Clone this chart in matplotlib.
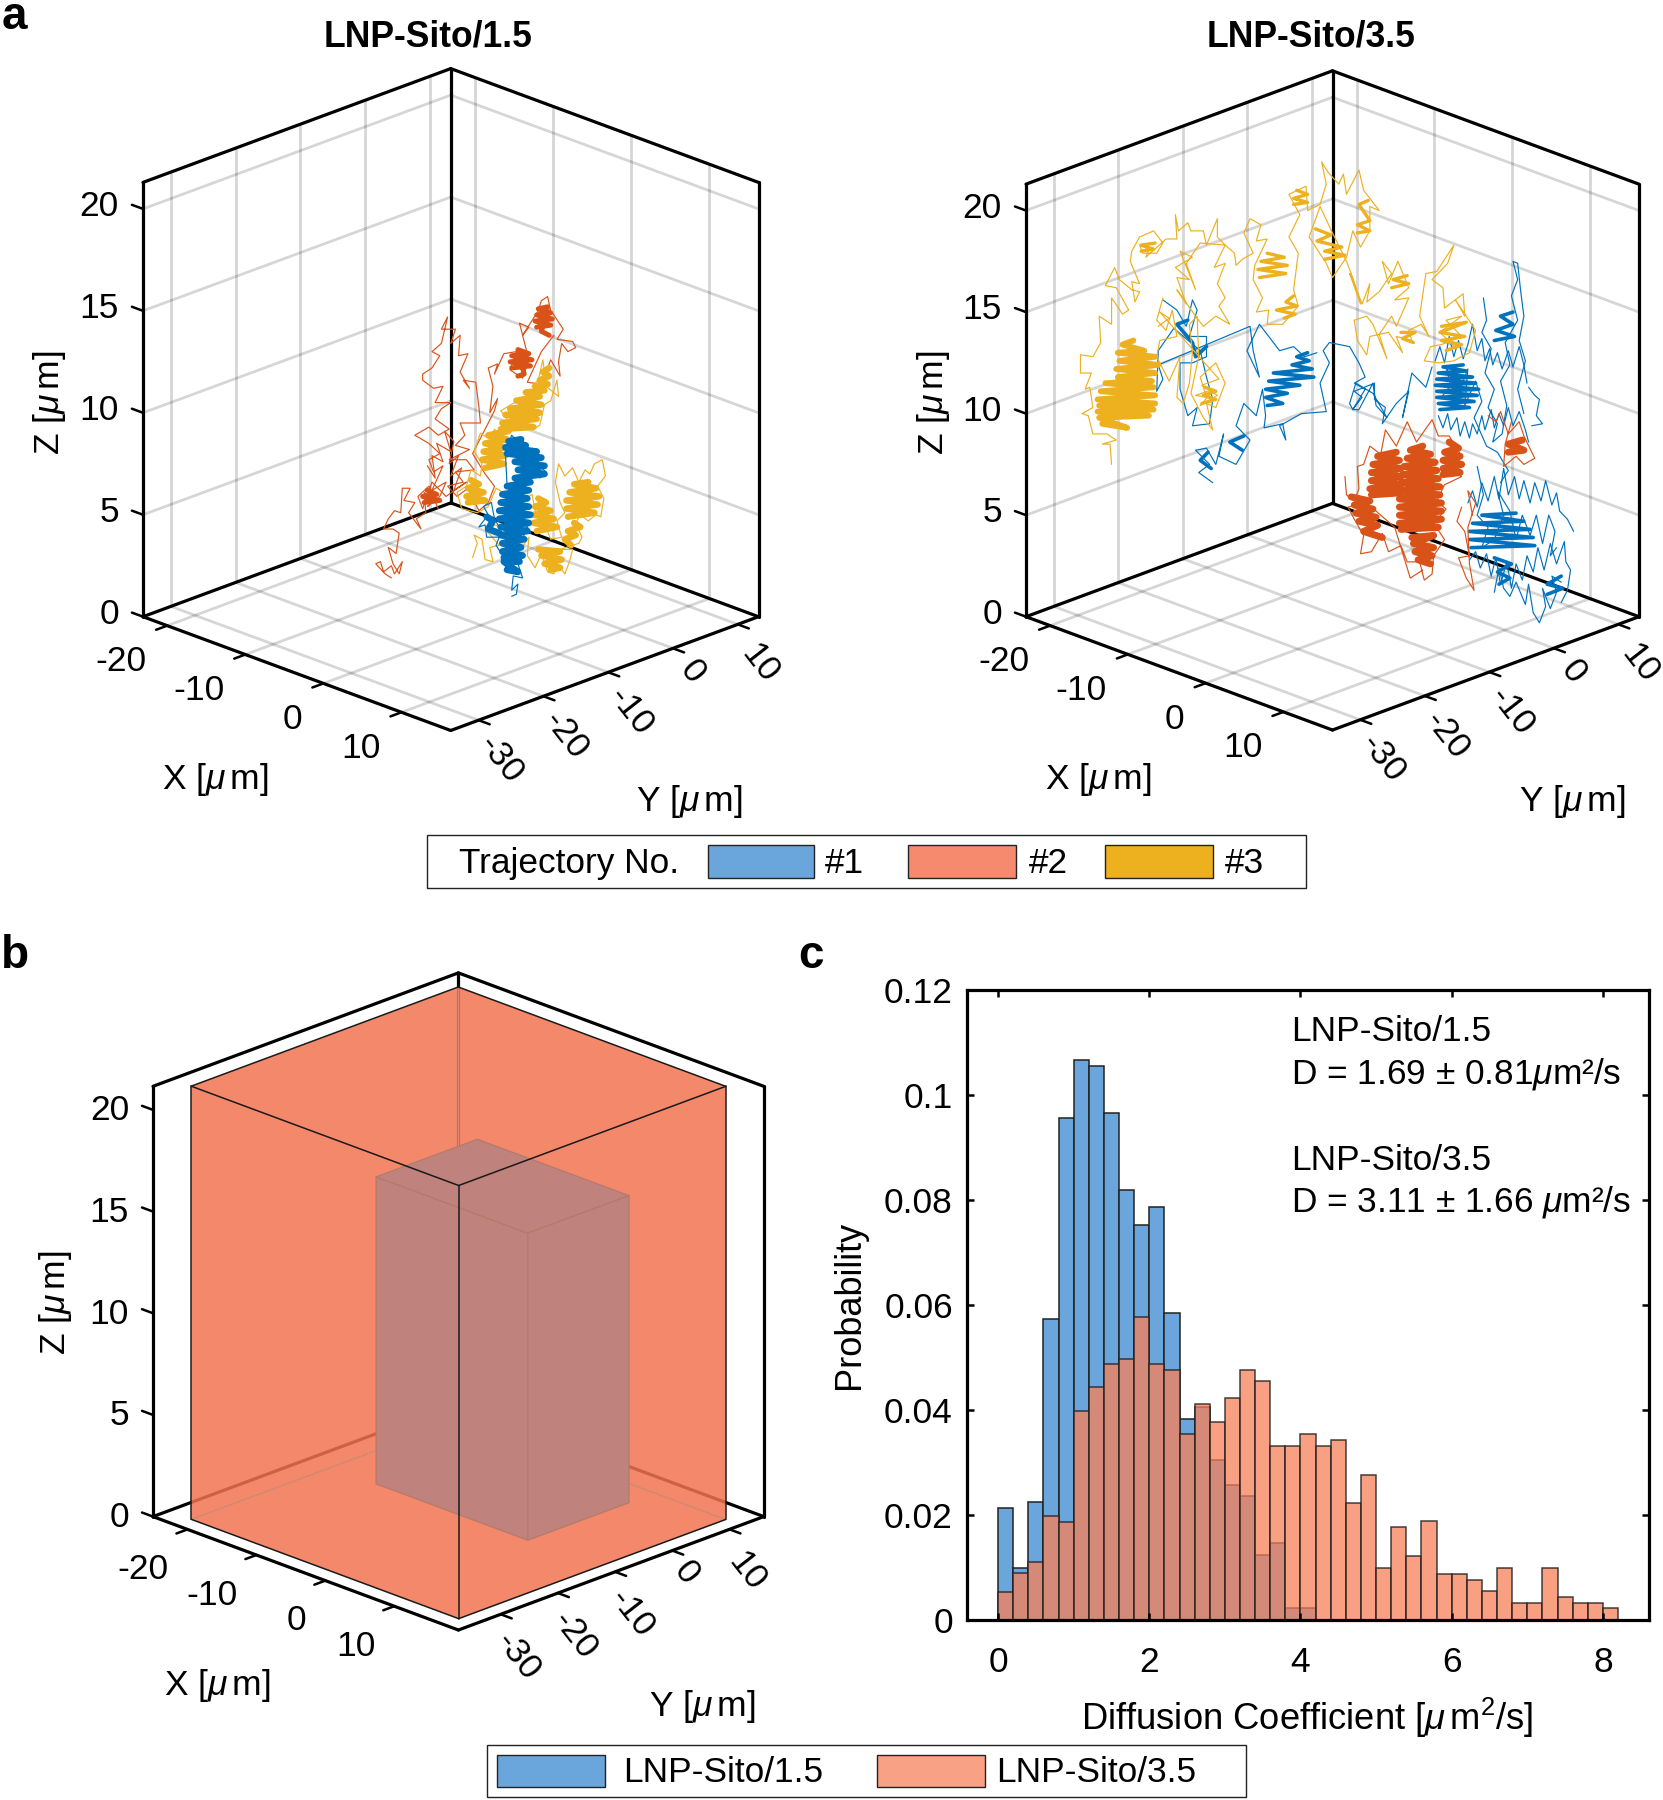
"""Three panels: particle trajectories in 3D, the imaged volumes, diffusion histogram."""
import matplotlib

matplotlib.use("Agg")
import matplotlib.pyplot as plt
import numpy as np
from matplotlib.colors import to_rgba
from matplotlib.patches import Rectangle
from mpl_toolkits.mplot3d import proj3d
from mpl_toolkits.mplot3d.art3d import Poly3DCollection

plt.rcParams["font.family"] = ["Liberation Sans", "DejaVu Sans"]
plt.rcParams["mathtext.fontset"] = "custom"
plt.rcParams["mathtext.rm"] = "Liberation Sans"
plt.rcParams["mathtext.it"] = "Liberation Sans:italic"

W, H = 1663, 1800
BLUE, RED, YELLOW = "#0072BD", "#D95319", "#EDB120"
SWATCH_BLUE, SWATCH_RED, SWATCH_ORANGE = "#6aa6dc", "#f58a6e", "#f9a184"
FS = 25.5

X_TICKS = [-20, -10, 0, 10]
Y_TICKS = [-30, -20, -10, 0, 10]
Z_TICKS = [0, 5, 10, 15, 20]

# Only the projection of a path can be read, so each track is (X, Z) in um;
# depth is placed on the box diagonal when drawing.
L_RED_THIN = [
    (-7.2, 1.9), (-7.6, 2.1), (-8.2, 2.6), (-7.9, 2.7), (-7.7, 2.2), (-7.2, 2.5), (-7.0, 2.1), (-6.5, 2.7),
    (-6.7, 2.1), (-7.1, 2.6), (-7.4, 3.4), (-6.9, 3.1), (-6.7, 4.1), (-7.1, 4.3), (-7.7, 4.3), (-7.4, 4.8),
    (-7.0, 5.2), (-6.6, 5.1), (-6.5, 6.3), (-6.0, 6.3), (-6.4, 5.7), (-5.7, 5.6), (-6.1, 5.1), (-5.3, 4.3),
    (-5.6, 4.8), (-5.0, 5.1), (-5.1, 6.1), (-4.5, 5.7), (-4.9, 5.4), (-4.1, 5.9), (-3.7, 6.6), (-4.6, 6.2),
    (-3.9, 7.4), (-4.5, 7.1), (-4.8, 7.7), (-4.1, 8.0), (-4.8, 8.5), (-5.7, 8.9), (-4.8, 9.3), (-4.2, 8.9),
    (-3.5, 9.2), (-4.4, 9.7), (-4.0, 10.2), (-3.4, 10.5), (-4.4, 10.5), (-3.9, 11.3), (-4.5, 11.2), (-5.2, 11.6),
    (-5.2, 11.9), (-4.6, 12.2), (-4.1, 12.8), (-4.6, 13.0), (-4.0, 13.4), (-3.6, 14.7), (-4.0, 14.1), (-3.1, 14.1),
    (-3.4, 13.4), (-2.8, 13.8), (-2.9, 12.8), (-2.3, 12.9), (-2.8, 12.0), (-2.2, 11.2), (-2.6, 11.6), (-1.8, 11.5),
    (-1.6, 10.3), (-1.5, 9.5), (-2.8, 9.5), (-2.5, 8.9), (-3.1, 8.4), (-2.2, 8.2), (-3.5, 7.7), (-2.4, 7.7),
    (-1.9, 7.2), (-3.1, 7.1), (-2.6, 6.6), (-3.6, 6.4), (-3.0, 5.9), (-2.3, 6.3), (-1.6, 5.2), (-1.0, 5.6),
    (-0.6, 6.4), (-1.2, 7.0), (-2.0, 8.0), (-0.6, 10.1), (-0.4, 10.7), (-0.9, 10.0), (-0.7, 11.3), (-1.0, 12.2),
    (-0.4, 12.4), (-0.6, 11.9), (0.0, 12.9), (0.8, 13.0), (0.4, 12.1), (1.2, 11.7), (1.6, 12.6), (1.0, 14.4),
    (1.6, 14.2), (1.2, 13.8), (2.2, 15.0), (2.4, 15.5), (2.8, 15.7), (3.0, 15.0), (3.2, 14.8), (3.8, 14.1),
    (3.4, 13.6), (4.4, 13.5), (4.6, 13.2), (4.1, 13.0), (3.7, 13.4), (3.5, 12.5), (3.6, 11.8), (3.0, 12.6),
    (2.4, 11.4), (1.5, 11.5), (2.4, 13.0), (3.2, 13.8),
]
L_RED_SCRIB = [
    (-4.9, 7.4), (-4.4, 6.8), (-4.6, 7.9), (-3.9, 7.6), (-4.3, 8.5), (-3.4, 8.1), (-3.8, 9.1), (-3.2, 8.6),
    (-3.5, 7.5), (-2.9, 7.9), (-3.4, 6.9), (-2.7, 7.3), (-3.2, 6.2), (-2.4, 6.6), (-3.7, 5.9), (-4.6, 6.6),
    (-5.2, 5.3), (-5.5, 5.9), (-4.8, 6.4), (-4.2, 5.3),
]
L_RED_BLOBS = [
    [(2.1, 14.2), (3.0, 14.3), (2.0, 14.5), (3.1, 14.6), (2.1, 14.8), (3.0, 14.9), (2.2, 15.1), (2.8, 15.2), (2.4, 14.0), (2.9, 13.8)],
    [(0.5, 12.2), (1.7, 12.3), (0.4, 12.5), (1.8, 12.6), (0.5, 12.8), (1.6, 12.9), (0.9, 13.1), (1.3, 11.9), (0.9, 11.8)],
    [(-5.1, 5.6), (-4.1, 5.7), (-5.2, 5.9), (-4.3, 6.0), (-4.9, 6.2)],
]
L_YELLOW_THIN = [
    (-2.0, 2.9), (-1.7, 3.6), (-1.9, 4.0), (-1.4, 3.8), (-1.2, 2.8), (-0.7, 2.7), (-0.9, 3.4), (-0.3, 3.5),
    (-1.2, 4.3), (-0.5, 4.5), (0.1, 4.0), (1.0, 3.2), (1.6, 3.9), (1.5, 3.0), (2.0, 2.4), (2.4, 3.1),
    (2.8, 2.2), (3.2, 2.1), (3.4, 2.6), (3.9, 2.1), (4.2, 2.7), (4.4, 3.3), (3.6, 3.3), (4.8, 3.6),
    (5.0, 3.9), (4.6, 4.6), (4.9, 5.0), (5.4, 4.7), (5.9, 5.0), (6.2, 4.9), (6.4, 5.8), (6.0, 6.4),
    (6.5, 6.9), (6.3, 7.7), (5.8, 7.5), (5.5, 7.0), (5.2, 7.2), (4.8, 6.6), (4.4, 7.3), (3.9, 6.9),
    (3.5, 7.5), (3.3, 6.6), (3.6, 5.6), (3.9, 5.1), (3.4, 4.7), (3.7, 3.9), (3.0, 3.8), (2.4, 4.9),
    (2.0, 5.2), (1.8, 6.0), (1.0, 5.6), (0.4, 5.9), (-0.5, 6.3), (-1.0, 5.4), (-1.7, 5.1), (-2.7, 5.3),
    (-3.0, 6.1), (-2.4, 6.4), (-2.1, 7.2), (-1.5, 6.9), (-1.4, 7.5), (-1.9, 8.1), (-1.5, 9.0), (-0.9, 8.7),
    (-0.6, 9.2), (-0.1, 8.8), (0.2, 9.7), (-0.2, 10.1), (0.9, 10.6), (1.2, 9.7), (1.9, 9.2), (2.3, 9.4),
    (2.6, 10.4), (3.0, 10.6), (3.4, 11.6), (3.5, 10.8), (2.7, 11.3), (2.5, 12.6), (2.2, 11.6), (1.8, 11.3),
]
L_YELLOW_BLOBS = [
    [(-1.2, 7.3), (0.0, 7.5), (-1.4, 7.7), (0.1, 7.9), (-1.3, 8.1), (0.1, 8.3), (-1.2, 8.5), (0.2, 8.7), (-1.0, 8.9), (0.3, 9.1)],
    [(-0.2, 9.2), (1.9, 9.3), (-0.1, 9.5), (2.1, 9.7), (0.1, 9.9), (2.3, 10.0), (0.4, 10.2), (2.4, 10.4), (0.8, 10.6), (2.3, 10.8), (1.4, 11.0), (2.6, 11.1)],
    [(2.0, 11.3), (2.8, 11.4), (2.3, 11.6), (2.9, 11.8), (2.5, 12.0), (2.9, 12.2)],
    [(-2.3, 5.6), (-1.2, 5.7), (-2.4, 5.9), (-1.3, 6.1), (-2.3, 6.3), (-1.6, 6.5), (-2.1, 6.7)],
    [(2.1, 4.2), (3.4, 4.4), (1.9, 4.6), (3.2, 4.8), (1.9, 5.0), (3.0, 5.2), (2.0, 5.4), (2.7, 5.6), (2.2, 5.8)],
    [(2.2, 3.3), (3.6, 3.2), (2.4, 3.0), (3.7, 2.8), (2.6, 2.6), (3.6, 2.4), (3.0, 2.3)],
    [(4.1, 4.9), (5.8, 5.1), (4.0, 5.3), (6.0, 5.5), (4.0, 5.7), (6.1, 5.9), (4.2, 6.1), (5.9, 6.3), (4.5, 6.5), (5.4, 6.6)],
    [(4.5, 4.6), (4.9, 4.4), (4.1, 4.2), (4.6, 4.0), (3.9, 3.8), (4.3, 3.5)],
]
L_BLUE_THIN = [
    (0.5, 1.0), (0.8, 1.1), (0.9, 1.6), (0.5, 1.3), (0.6, 2.0), (1.2, 1.9), (0.9, 2.6), (1.2, 2.9),
    (0.0, 2.9), (-0.5, 3.5), (-0.3, 3.9), (-1.1, 3.9), (-1.2, 4.5), (-1.6, 4.4), (-1.0, 5.0), (-1.3, 5.4),
    (-0.8, 5.6), (-0.6, 4.8), (-0.3, 4.4), (1.2, 3.7), (1.4, 4.4), (1.7, 4.1), (0.2, 6.5), (0.1, 8.0),
    (0.5, 8.9), (1.2, 8.3), (2.0, 7.9), (2.4, 7.3), (2.7, 7.1), (2.3, 6.8),
]
L_BLUE_BLOBS = [
    [(0.2, 2.3), (0.9, 2.2), (0.0, 2.7), (1.0, 2.7), (0.0, 2.9), (1.2, 3.0), (-0.1, 3.2), (1.1, 3.4), (-0.1, 3.6), (1.3, 3.8),
     (-0.2, 4.0), (1.5, 4.2), (-0.2, 4.4), (1.6, 4.6), (-0.3, 4.8), (1.7, 5.0), (-0.3, 5.2), (1.6, 5.4), (-0.2, 5.6), (1.5, 5.8),
     (-0.1, 6.0), (1.6, 6.2), (0.2, 6.4), (1.7, 6.6), (0.7, 6.8), (2.6, 7.0), (0.9, 7.2), (2.6, 7.4), (0.7, 7.6), (2.4, 7.8),
     (0.2, 8.0), (2.1, 8.1), (0.1, 8.3), (1.4, 8.4), (0.3, 8.6), (1.1, 8.7)],
    [(-1.1, 4.9), (-0.7, 4.7), (-1.0, 4.3), (-0.3, 4.1)],
]

R_YELLOW_THIN = [
    (-17.6, 7.5), (-17.7, 8.5), (-18.2, 8.5), (-17.3, 8.7), (-17.9, 9.0), (-18.8, 9.0), (-19.1, 9.9), (-19.5, 10.0),
    (-18.8, 10.3), (-19.0, 11.3), (-19.3, 11.2), (-18.9, 12.0), (-19.6, 12.0), (-19.6, 12.9), (-18.8, 12.8), (-18.3, 13.5),
    (-18.4, 14.8), (-17.6, 14.4), (-17.6, 15.7), (-16.9, 14.9), (-16.5, 15.1), (-17.3, 16.2), (-18.0, 16.3), (-17.4, 17.2),
    (-17.1, 16.6), (-16.3, 16.1), (-15.8, 16.0), (-16.1, 15.5), (-16.3, 16.5), (-15.8, 16.4), (-16.4, 17.5), (-16.3, 18.0),
    (-15.8, 18.7), (-14.9, 19.0), (-14.3, 18.4), (-14.7, 17.9), (-15.6, 17.9), (-15.8, 18.3), (-15.2, 18.1), (-15.4, 17.7),
    (-14.1, 18.6), (-13.4, 18.6), (-13.5, 19.8), (-13.3, 19.0), (-12.7, 19.4), (-12.5, 19.0), (-11.7, 19.0), (-11.5, 18.3),
    (-10.8, 19.6), (-10.8, 18.7), (-10.3, 18.3), (-11.0, 17.2), (-10.3, 17.4), (-10.8, 16.4), (-10.3, 15.7), (-10.7, 15.3),
    (-10.0, 14.4), (-10.9, 14.8), (-11.7, 14.3), (-12.2, 14.8), (-13.4, 16.1), (-12.8, 15.4), (-13.4, 16.7), (-12.6, 16.6),
    (-13.5, 17.2), (-12.4, 17.7), (-13.2, 18.0), (-12.2, 16.1), (-12.8, 17.4), (-11.9, 18.4), (-10.3, 18.3), (-9.7, 17.9),
    (-9.6, 17.3), (-9.2, 17.6), (-8.5, 17.9), (-9.1, 18.9), (-8.7, 19.6), (-8.0, 19.3), (-8.3, 18.5), (-7.6, 18.6),
    (-8.4, 17.3), (-8.5, 16.6), (-7.9, 15.7), (-8.3, 15.0), (-7.5, 15.1), (-7.6, 14.4), (-6.6, 14.4), (-5.6, 15.3),
    (-5.9, 16.1), (-5.6, 17.9), (-6.2, 18.7), (-5.5, 19.8), (-6.2, 20.8), (-5.1, 21.2), (-5.0, 20.0), (-4.2, 20.3),
    (-3.8, 21.3), (-4.1, 22.4), (-3.7, 21.9), (-3.0, 21.3), (-2.7, 21.8), (-2.5, 20.8), (-1.7, 22.0), (-1.4, 21.0),
    (-0.4, 20.0), (-1.0, 20.2), (-1.0, 19.0), (-1.6, 18.2), (-2.1, 19.0), (-2.5, 17.7), (-3.4, 16.7), (-3.8, 17.4),
    (-4.9, 18.7), (-4.2, 20.2), (-3.4, 18.9), (-2.5, 17.5), (-2.1, 16.7), (-1.6, 15.4), (-2.3, 16.9), (-2.1, 16.6),
    (-1.5, 15.4), (-1.0, 16.4), (-1.2, 15.5), (-0.4, 16.0), (0.4, 16.9), (-0.2, 17.5), (0.2, 16.4), (0.8, 17.5),
    (1.5, 16.2), (0.6, 15.6), (1.5, 15.7), (0.7, 14.3), (0.4, 14.8), (-0.4, 13.9), (0.1, 12.7), (-0.8, 14.4),
    (-1.2, 14.8), (-2.0, 14.6), (-1.8, 13.6), (-1.2, 12.9), (-1.0, 13.8), (0.2, 14.0), (1.1, 13.0), (0.7, 13.8),
    (1.7, 13.6), (1.5, 14.1), (2.3, 14.4), (2.8, 13.8), (2.2, 14.8), (2.6, 16.9), (3.3, 17.0), (4.4, 18.3),
    (4.0, 17.4), (3.0, 16.6), (3.7, 16.2), (3.8, 15.2), (5.0, 15.9), (5.1, 14.8), (4.5, 15.6), (5.8, 14.1),
    (5.4, 13.0), (4.4, 12.6), (3.4, 12.5), (2.5, 12.6), (2.9, 13.3), (3.6, 13.4), (4.9, 13.8), (3.9, 14.6),
    (4.9, 14.8), (3.5, 14.0), (4.6, 13.2),
]
R_YELLOW_MID = [
    (-14.3, 15.7), (-14.7, 14.6), (-14.1, 14.1), (-13.7, 15.1), (-13.4, 13.8), (-14.5, 13.6), (-14.7, 12.8), (-13.9, 11.6),
    (-13.2, 12.8), (-13.4, 10.8), (-13.0, 10.5), (-12.6, 11.5), (-12.4, 13.0), (-12.6, 14.4), (-12.1, 14.8), (-12.0, 12.8),
    (-12.5, 11.0), (-11.7, 9.8), (-11.1, 9.2), (-11.5, 10.5), (-10.9, 10.3), (-10.3, 11.5), (-10.9, 12.5), (-11.9, 11.8),
    (-11.5, 10.8), (-12.2, 10.9), (-11.0, 11.2), (-11.9, 10.4), (-10.8, 10.9), (-11.8, 11.4), (-10.7, 11.7),
    (-14.5, 15.0), (-13.9, 14.7), (-14.6, 14.3),
]
R_YELLOW_BLOBS = [
    [(-18.2, 9.5), (-16.6, 9.3), (-18.4, 9.8), (-15.2, 9.9), (-18.5, 10.1), (-14.9, 10.2), (-18.4, 10.4), (-14.8, 10.5), (-18.5, 10.7), (-14.8, 10.9),
     (-18.3, 11.1), (-14.9, 11.3), (-18.0, 11.5), (-15.0, 11.6), (-17.2, 11.8), (-14.8, 12.0), (-17.3, 12.2), (-14.6, 12.4), (-17.1, 12.6), (-14.8, 12.8),
     (-17.2, 13.0), (-15.5, 13.1), (-16.9, 13.4), (-16.2, 13.6)],
    [(-15.7, 18.0), (-14.9, 18.1), (-15.7, 18.3), (-14.8, 18.4)],
    [(-8.1, 16.7), (-6.4, 16.9), (-8.2, 17.1), (-6.3, 17.3), (-8.0, 17.5), (-6.5, 17.7), (-7.6, 17.9)],
    [(-6.5, 14.7), (-5.8, 14.9), (-7.0, 15.1), (-5.7, 15.3), (-6.4, 15.5), (-5.9, 15.8)],
    [(-5.9, 20.3), (-5.0, 20.4), (-5.9, 20.6), (-5.0, 20.8), (-5.7, 21.0)],
    [(-3.9, 17.6), (-2.6, 17.8), (-3.9, 18.0), (-2.8, 18.2), (-4.4, 18.5), (-3.5, 18.8), (-4.5, 19.1)],
    [(-1.8, 18.9), (-1.0, 19.0), (-1.8, 19.3), (-1.0, 19.5), (-1.7, 20.3), (-1.1, 20.5)],
    [(-11.8, 10.5), (-10.9, 10.7), (-11.7, 10.9), (-10.9, 11.1), (-11.6, 11.3)],
    [(0.4, 16.2), (1.5, 16.4), (0.5, 16.6), (1.4, 16.8)],
    [(1.0, 14.0), (1.9, 14.0), (1.1, 13.7), (1.8, 13.5)],
    [(3.6, 14.3), (5.2, 14.5), (3.5, 14.0), (5.1, 13.8), (3.6, 13.6), (4.9, 13.4), (3.9, 13.1)],
]
R_BLUE_THIN = [
    (-11.1, 6.6), (-12.0, 7.1), (-11.3, 7.5), (-12.2, 8.2), (-11.5, 8.3), (-10.9, 7.5), (-10.4, 9.0), (-10.7, 7.9),
    (-9.6, 7.5), (-8.7, 8.7), (-9.6, 9.4), (-9.1, 10.5), (-8.3, 9.9), (-7.9, 11.2), (-7.7, 9.9), (-7.8, 9.3),
    (-6.6, 9.5), (-6.4, 8.7), (-6.8, 9.4), (-5.4, 10.0), (-3.8, 10.1), (-4.2, 11.5), (-3.6, 12.5), (-4.0, 13.1),
    (-3.6, 13.5), (-2.3, 13.3), (-1.7, 12.5), (-1.3, 11.8), (-2.0, 11.5), (-1.3, 11.2), (-2.1, 10.2), (-1.7, 10.2),
    (-0.8, 11.5), (-0.6, 10.4), (0.1, 9.8), (-0.8, 11.0), (-1.9, 11.5), (-2.3, 10.5), (-2.1, 10.2), (-1.5, 10.8),
    (-2.0, 11.1), (-0.7, 11.5), (-0.7, 10.7), (0.0, 10.3), (-0.2, 9.5), (0.7, 10.5), (1.5, 11.1), (1.1, 9.8),
    (1.7, 12.0), (2.6, 11.3), (3.0, 12.3),
]
R_BLUE_LEFT = [
    (-14.3, 15.6), (-13.4, 15.1), (-12.8, 14.3), (-12.4, 15.6), (-12.1, 15.1), (-12.6, 13.8), (-11.5, 13.8), (-11.5, 12.8),
    (-12.4, 12.5), (-13.2, 12.5), (-13.2, 11.2), (-12.7, 9.9), (-12.1, 10.3), (-12.4, 9.4), (-11.3, 9.5), (-11.1, 10.7),
    (-11.5, 11.8), (-11.9, 13.1), (-13.6, 14.2), (-14.6, 13.1), (-14.7, 11.1), (-14.3, 11.7), (-14.6, 12.4),
    (-8.7, 14.3), (-8.5, 13.1), (-8.1, 11.8), (-8.9, 13.1), (-8.1, 14.4), (-7.5, 13.8), (-6.8, 13.1), (-5.9, 13.3),
    (-5.2, 12.8), (-4.4, 13.0),
]
R_BLUE_STRANDS = [
    [(3.4, 9.9), (3.7, 9.3), (4.0, 10.0), (4.2, 9.2), (4.6, 9.8), (4.8, 8.9), (5.1, 9.6), (5.4, 8.8), (5.6, 9.5), (5.9, 9.0), (6.2, 9.9),
     (6.4, 9.2), (6.8, 10.2), (7.0, 9.3), (7.3, 10.0), (7.6, 9.4), (7.9, 10.3), (8.2, 9.4), (8.6, 10.1), (9.0, 9.2), (9.2, 8.6)],
    [(3.2, 12.6), (3.5, 13.3), (3.8, 12.5), (4.1, 13.8), (4.4, 12.8), (4.7, 13.6), (5.0, 12.7), (5.3, 13.4), (5.6, 14.4), (5.9, 13.1), (6.2, 13.7),
     (6.4, 12.6), (6.7, 13.2), (6.9, 12.4), (7.2, 13.0), (7.5, 12.2), (7.9, 13.1), (8.2, 12.3), (8.6, 13.3), (8.9, 12.4), (9.1, 11.5)],
    [(6.3, 15.7), (6.5, 14.6), (6.2, 14.0), (6.8, 13.2), (6.4, 12.0), (7.0, 11.2), (6.6, 10.3), (7.2, 9.5), (6.9, 8.6), (7.5, 9.0), (7.8, 10.4),
     (7.4, 11.6), (8.0, 12.4), (7.7, 13.5), (8.5, 14.6), (8.1, 15.8), (8.5, 16.6), (8.2, 17.5), (8.5, 17.4), (8.7, 16.0), (8.9, 14.8),
     (8.6, 13.6), (9.0, 12.6), (8.5, 11.2), (8.9, 10.0)],
    [(9.2, 11.3), (9.6, 10.9), (9.9, 10.7), (9.7, 9.9), (10.1, 9.5), (9.4, 9.4)],
    [(3.6, 10.8), (4.2, 11.4), (3.9, 12.3), (4.7, 11.0), (5.3, 12.2), (5.1, 10.4), (5.8, 11.6), (6.2, 10.6), (5.7, 9.8), (6.5, 8.4), (7.2, 8.1),
     (7.9, 7.2), (7.4, 6.6)],
    [(5.3, 5.6), (5.6, 6.2), (5.9, 5.4), (6.2, 6.6), (6.6, 5.7), (7.0, 6.9), (7.3, 5.8), (7.6, 7.3), (7.9, 6.0), (8.3, 6.9), (8.6, 5.8),
     (8.9, 6.7), (9.3, 5.6), (9.6, 6.6), (10.0, 5.7), (10.3, 6.7), (10.7, 5.5), (11.0, 6.1), (11.2, 5.2), (11.7, 4.8), (12.1, 4.2)],
    [(5.4, 2.8), (5.8, 3.2), (6.1, 2.4), (6.5, 3.1), (6.8, 2.0), (7.1, 2.9), (7.4, 1.6), (7.8, 2.7), (8.1, 1.4), (8.4, 2.6), (8.8, 1.8),
     (9.1, 3.0), (9.5, 2.2), (9.8, 3.4), (10.2, 2.3), (10.6, 3.6), (11.0, 2.6), (11.5, 3.7), (11.6, 2.7), (11.9, 2.3), (11.7, 1.3), (11.3, 0.7)],
    [(7.0, 1.2), (7.3, 2.4), (7.6, 1.4), (8.0, 1.0), (8.4, 1.7), (9.0, 0.6), (9.2, 1.6), (9.5, 0.2), (9.9, -0.3), (10.3, 0.5), (10.1, 1.4),
     (10.6, 0.4), (11.0, 1.2), (10.7, 2.0), (11.3, 1.7)],
    [(5.9, 7.4), (6.3, 6.0), (5.9, 5.0), (6.6, 4.4), (6.2, 3.4), (7.0, 3.8), (7.6, 5.0), (7.2, 6.2), (8.0, 5.2), (8.4, 3.8), (8.8, 5.0),
     (9.3, 4.0), (9.7, 5.0), (10.1, 3.6), (10.5, 5.0), (10.9, 4.2), (10.6, 3.0), (11.0, 3.4)],
]
R_BLUE_BLOBS = [
    [(-7.6, 10.4), (-6.6, 10.5), (-7.7, 10.8), (-6.3, 11.0), (-7.7, 11.2), (-5.5, 11.4), (-7.5, 11.6), (-4.6, 11.8),
     (-7.2, 12.0), (-4.7, 12.2), (-6.0, 12.4), (-4.9, 12.6), (-5.7, 12.8), (-5.0, 13.0)],
    [(-11.4, 8.1), (-11.9, 7.7), (-11.2, 7.3)],
    [(-9.2, 8.2), (-10.0, 8.6), (-9.1, 8.9)],
    [(-12.7, 14.6), (-13.4, 14.4), (-12.4, 13.5), (-12.2, 12.8), (-11.5, 13.3)],
    [(3.5, 10.2), (5.4, 10.3), (3.4, 10.5), (5.7, 10.6), (3.3, 10.8), (5.9, 10.9), (3.3, 11.1), (6.0, 11.2), (3.2, 11.4), (5.8, 11.5),
     (3.3, 11.7), (5.6, 11.8), (3.4, 12.0), (5.2, 12.1), (3.7, 12.3), (5.0, 12.4)],
    [(7.0, 13.6), (8.3, 13.8), (7.1, 14.1), (8.2, 14.4), (7.4, 14.8), (8.2, 15.0)],
    [(5.5, 3.4), (9.6, 3.5), (5.4, 3.8), (9.5, 3.9), (5.4, 4.2), (9.3, 4.3), (5.6, 4.6), (8.9, 4.7), (6.2, 5.0), (8.4, 5.1)],
    [(7.0, 2.9), (8.1, 2.6), (7.2, 2.2), (8.0, 1.9), (7.3, 1.6)],
    [(10.4, 1.1), (11.4, 1.4), (10.4, 1.6), (11.3, 2.0)],
]
R_RED_THIN = [
    (-2.6, 6.9), (-2.5, 6.0), (-2.0, 5.7), (-1.7, 6.3), (-1.8, 7.4), (-1.4, 7.5), (-1.0, 8.4), (-0.3, 8.0),
    (0.0, 9.2), (0.7, 8.4), (1.4, 9.6), (2.0, 8.6), (3.0, 9.7), (3.4, 8.9), (4.1, 8.9), (4.9, 7.9),
    (4.3, 7.2), (4.9, 6.9), (3.8, 6.5), (3.3, 5.7), (3.9, 5.3), (3.1, 4.6), (3.8, 3.8), (3.1, 3.0),
    (3.0, 2.1), (2.5, 1.8), (2.2, 2.7), (1.4, 2.7), (1.0, 3.5), (0.2, 3.2), (-0.2, 4.1), (-0.9, 3.2),
    (-1.6, 3.1), (-1.4, 4.0), (-2.0, 4.8), (-2.4, 5.4), (-1.2, 5.6), (0.6, 4.4), (1.6, 1.9), (2.4, 2.3),
]
R_RED_STRANDS = [
    (4.9, 5.4), (4.6, 4.7), (5.1, 4.2), (5.4, 3.0), (4.7, 2.9), (5.2, 1.9), (5.7, 1.3), (5.4, 2.6),
    (5.3, 4.4), (5.8, 5.6), (5.3, 6.2), (5.6, 5.0),
]
R_RED_UPPER = [
    (6.6, 9.9), (7.1, 9.6), (7.4, 10.1), (7.9, 9.0), (8.6, 9.6), (8.9, 8.9), (9.6, 7.8), (8.9, 7.5),
    (8.4, 7.9), (7.6, 7.4), (7.7, 8.5), (8.1, 9.6),
]
R_RED_BLOBS = [
    [(1.0, 4.3), (3.4, 4.4), (0.9, 4.6), (3.6, 4.8), (0.9, 5.0), (3.6, 5.2), (0.9, 5.4), (3.6, 5.6), (0.9, 5.8), (3.5, 6.0),
     (0.9, 6.2), (3.5, 6.4), (1.0, 6.6), (3.4, 6.8), (1.1, 7.0), (3.3, 7.2), (1.2, 7.4), (3.2, 7.6), (1.4, 7.8), (2.9, 8.0), (1.6, 8.2), (2.4, 8.4)],
    [(-0.9, 6.0), (1.0, 6.1), (-1.0, 6.3), (1.0, 6.5), (-0.9, 6.7), (1.0, 6.9), (-0.9, 7.1), (1.0, 7.3), (-0.8, 7.5), (0.9, 7.7), (-0.5, 7.9), (0.7, 8.1)],
    [(-2.2, 5.9), (-1.0, 5.7), (-2.0, 5.5), (-0.8, 5.3), (-1.9, 5.1), (-0.6, 4.9), (-1.7, 4.7), (-0.5, 4.5), (-1.4, 4.2), (-0.2, 3.9)],
    [(3.7, 7.0), (4.8, 7.1), (3.7, 7.3), (4.9, 7.5), (3.7, 7.7), (4.8, 7.9), (3.8, 8.1), (4.7, 8.3), (4.1, 8.6)],
    [(1.7, 3.9), (3.1, 4.0), (1.8, 3.6), (3.1, 3.4), (1.9, 3.2), (3.0, 3.0), (2.1, 2.8), (2.9, 2.6)],
    [(7.9, 8.1), (8.9, 8.2), (7.9, 8.5), (8.8, 8.7)],
]

HIST_BLUE = [0.0213, 0.0100, 0.0225, 0.0573, 0.0956, 0.1067, 0.1056, 0.0966, 0.0820, 0.0753, 0.0787,
             0.0584, 0.0382, 0.0406, 0.0305, 0.0258, 0.0237, 0.0124, 0.0146, 0.0022, 0.0022]
HIST_ORANGE = [0.0054, 0.0089, 0.0111, 0.0199, 0.0187, 0.0399, 0.0443, 0.0488, 0.0498, 0.0577, 0.0488,
               0.0476, 0.0354, 0.0411, 0.0377, 0.0422, 0.0477, 0.0455, 0.0332, 0.0332, 0.0354, 0.0332,
               0.0343, 0.0222, 0.0277, 0.0100, 0.0177, 0.0122, 0.0188, 0.0088, 0.0088, 0.0077, 0.0055,
               0.0100, 0.0033, 0.0033, 0.0100, 0.0044, 0.0033, 0.0033, 0.0022]
BIN_WIDTH = 0.2


def fx(x):
    return x / W


def fy(y):
    return 1 - y / H


def ptext(x, y, s, **kw):
    kw.setdefault("fontsize", FS)
    return fig.text(fx(x), fy(y), s, **kw)


def prect(x0, y0, x1, y1, **kw):
    fig.add_artist(Rectangle((fx(x0), fy(y1)), (x1 - x0) / W, (y1 - y0) / H,
                             transform=fig.transFigure, **kw))


def box_axes(lims, elev, left, right, base_y, z_aspect):
    """Orthographic 3D axes whose box lands on the wanted pixels."""
    ax = fig.add_axes([0.2, 0.2, 800 / W, 800 / H], projection="3d", computed_zorder=False)
    ax.set_proj_type("ortho")
    ax.view_init(elev=elev, azim=-45)
    ax.set_box_aspect((1, 1, z_aspect))
    ax.set_xlim3d(*lims[0])
    ax.set_ylim3d(*lims[1])
    ax.set_zlim3d(*lims[2])
    ax.autoscale(False)
    ax.set_axis_off()
    ax.patch.set_visible(False)
    ax.apply_aspect()
    M = ax.get_proj()
    a = proj3d.proj_transform(lims[0][0], lims[1][0], lims[2][0], M)[:2]
    b = proj3d.proj_transform(lims[0][1], lims[1][1], lims[2][0], M)[:2]
    pa, pb = ax.transData.transform([a, b])
    k = (right - left) / (pb[0] - pa[0])
    ax.set_position([(left - (pa[0] - 0.2 * W) * k) / W,
                     ((H - base_y) - (pa[1] - 0.2 * H) * k) / H,
                     800 * k / W, 800 * k / H])
    ax.apply_aspect()
    return ax


def at3d(ax, p, s, off, **kw):
    xp, yp = proj3d.proj_transform(p[0], p[1], p[2], ax.get_proj())[:2]
    ax.annotate(s, (xp, yp), xytext=off, textcoords="offset pixels", fontsize=FS,
                annotation_clip=False, **kw)


def seg(ax, a, b, **kw):
    ax.plot([a[0], b[0]], [a[1], b[1]], [a[2], b[2]], solid_capstyle="round", **kw)


def draw_frame(ax, lims, grid=True, z_off=(-24, 2.5), x_off=(-21, -36), y_off=(22, -39), y0_off=(19, -24)):
    (x0, x1), (y0, y1), (z0, z1) = lims
    dx, dy = 0.036 * (x1 - x0), 0.036 * (y1 - y0)
    if grid:
        gk = dict(color="black", alpha=0.16, lw=2.0, zorder=1)
        for v in Y_TICKS:
            seg(ax, (x0, v, z0), (x0, v, z1), **gk)
            seg(ax, (x0, v, z0), (x1, v, z0), **gk)
        for v in X_TICKS:
            seg(ax, (v, y1, z0), (v, y1, z1), **gk)
            seg(ax, (v, y0, z0), (v, y1, z0), **gk)
        for v in Z_TICKS[1:]:
            seg(ax, (x0, y0, v), (x0, y1, v), **gk)
            seg(ax, (x0, y1, v), (x1, y1, v), **gk)
    bk = dict(color="black", lw=2.3, zorder=2)
    for a, b in [((x0, y0, z0), (x0, y1, z0)), ((x1, y1, z0), (x0, y1, z0)), ((x0, y1, z0), (x0, y1, z1))]:
        seg(ax, a, b, **bk)
    for a, b in [((x0, y0, z1), (x0, y1, z1)), ((x0, y1, z1), (x1, y1, z1)),
                 ((x0, y0, z0), (x0, y0, z1)), ((x1, y1, z0), (x1, y1, z1)),
                 ((x0, y0, z0), (x1, y0, z0)), ((x1, y0, z0), (x1, y1, z0))]:
        seg(ax, a, b, color="black", lw=2.3, zorder=8)
    for v in Z_TICKS:
        seg(ax, (x0, y0, v), (x0 - dx, y0, v), color="black", lw=1.8, zorder=8)
        at3d(ax, (x0, y0, v), str(v), z_off, ha="right", va="center")
    for v in X_TICKS:
        seg(ax, (v, y0, z0), (v, y0 - dy, z0), color="black", lw=1.8, zorder=8)
        at3d(ax, (v, y0, z0), str(v), x_off, ha="right", va="center")
    for v in Y_TICKS:
        seg(ax, (x1, v, z0), (x1 + dx, v, z0), color="black", lw=1.8, zorder=8)
        at3d(ax, (x1, v, z0), str(v), y0_off if v == 0 else y_off, ha="center", va="center",
             rotation=-52, rotation_mode="anchor")


def track(ax, lims, pts, color, lw, zorder):
    (x0, x1), (y0, y1), _ = lims
    xs = np.array([p[0] for p in pts], dtype=float)
    zs = np.array([p[1] for p in pts], dtype=float)
    ys = y0 + (xs - x0) / (x1 - x0) * (y1 - y0)
    ax.plot(xs, ys, zs, color=color, lw=lw, zorder=zorder, solid_joinstyle="round", solid_capstyle="round")


THIN = 0.85
fig = plt.figure(figsize=(W / 100, H / 100), dpi=100, facecolor="white")

# a: the two trajectory boxes
LIMS_A = ((-23.1, 16.3), (-34.3, 13.2), (0, 21.3))
ax_l = box_axes(LIMS_A, 21.7, 143, 758.5, 616.7, 1.074)
draw_frame(ax_l, LIMS_A)
track(ax_l, LIMS_A, L_RED_THIN, RED, THIN, 3)
track(ax_l, LIMS_A, L_RED_SCRIB, RED, THIN, 3)
for blob in L_RED_BLOBS:
    track(ax_l, LIMS_A, blob, RED, 3.6, 3)
track(ax_l, LIMS_A, L_YELLOW_THIN, YELLOW, THIN, 4)
for blob in L_YELLOW_BLOBS:
    track(ax_l, LIMS_A, blob, YELLOW, 4.6, 4)
track(ax_l, LIMS_A, L_BLUE_THIN, BLUE, THIN, 5)
for blob in L_BLUE_BLOBS:
    track(ax_l, LIMS_A, blob, BLUE, 4.8, 5)

ax_r = box_axes(LIMS_A, 21.7, 1026, 1639, 616.7, 1.074)
draw_frame(ax_r, LIMS_A)
for part in [R_BLUE_THIN, R_BLUE_LEFT] + R_BLUE_STRANDS:
    track(ax_r, LIMS_A, part, BLUE, THIN, 3)
for blob in R_BLUE_BLOBS:
    track(ax_r, LIMS_A, blob, BLUE, 2.6, 3)
for part in (R_RED_THIN, R_RED_STRANDS, R_RED_UPPER):
    track(ax_r, LIMS_A, part, RED, THIN, 4)
for blob in R_RED_BLOBS:
    track(ax_r, LIMS_A, blob, RED, 5.0, 4)
for part in (R_YELLOW_THIN, R_YELLOW_MID):
    track(ax_r, LIMS_A, part, YELLOW, THIN, 5)
for i, blob in enumerate(R_YELLOW_BLOBS):
    track(ax_r, LIMS_A, blob, YELLOW, 4.2 if i == 0 else 2.4, 5)

for dx_panel, title in ((0, "LNP-Sito/1.5"), (883.5, "LNP-Sito/3.5")):
    ptext(428 + dx_panel, 37, title, ha="center", va="center", fontweight="bold", fontsize=25.6)
    ptext(215 + dx_panel, 780, r"X [$\mu\,$m]", ha="center", va="center")
    ptext(689 + dx_panel, 801, r"Y [$\mu\,$m]", ha="center", va="center")
    ptext(50 + dx_panel, 403, r"Z [$\mu\,$m]", ha="center", va="center", rotation=90)

prect(427, 834.5, 1306, 888, facecolor="white", edgecolor="#222222", lw=1.0)
ptext(459, 873, "Trajectory No.", fontsize=25.4)
for x0, x1, tx, col, name in ((708, 814, 825, SWATCH_BLUE, "#1"), (908, 1016, 1029, SWATCH_RED, "#2"),
                              (1105, 1213, 1225, YELLOW, "#3")):
    prect(x0, 845, x1, 878, facecolor=col, edgecolor="#222222", lw=1.0)
    ptext(tx, 873, name, fontsize=25.4)

# b: imaging volume with the inner tracking region
LIMS_B = ((-25, 19.3), (-37.4, 16), (0, 21.16))
OUTER = ((-21.7, 17.1), (-34.7, 12.0), (0, 21.3))
INNER = ((-15.2, 6.8), (-10.2, 7.5), (0, 15.1))
ax_b = box_axes(LIMS_B, 21.8, 153, 763.8, 1516.6, 1.073)
draw_frame(ax_b, LIMS_B, grid=False, z_off=(-24, -1), x_off=(-19, -40), y_off=(17, -42), y0_off=(14, -22))


def front_faces(b):
    (x0, x1), (y0, y1), (z0, z1) = b
    return [[(x0, y0, z1), (x1, y0, z1), (x1, y1, z1), (x0, y1, z1)],
            [(x1, y0, z0), (x1, y1, z0), (x1, y1, z1), (x1, y0, z1)],
            [(x0, y0, z0), (x1, y0, z0), (x1, y0, z1), (x0, y0, z1)]]


ax_b.add_collection3d(Poly3DCollection(front_faces(OUTER), facecolors=to_rgba("#f37350", 0.85),
                                       edgecolors="none", zorder=3), autolim=False)
(ox0, ox1), (oy0, oy1), (oz0, oz1) = OUTER
for a, b in [((ox0, oy0, oz0), (ox0, oy1, oz0)), ((ox1, oy1, oz0), (ox0, oy1, oz0))]:
    seg(ax_b, a, b, color="#cf8a72", lw=1.0, zorder=4)
seg(ax_b, (ox0, oy1, oz0), (ox0, oy1, oz1), color="#d98a70", lw=1.0, zorder=4)
ax_b.add_collection3d(Poly3DCollection(front_faces(INNER), facecolors="#c0827c", edgecolors="#b47a6c",
                                       linewidths=0.9, zorder=5), autolim=False)
for a, b in [((ox0, oy0, oz1), (ox1, oy0, oz1)), ((ox1, oy0, oz1), (ox1, oy1, oz1)),
             ((ox0, oy0, oz1), (ox0, oy1, oz1)), ((ox0, oy1, oz1), (ox1, oy1, oz1)),
             ((ox1, oy0, oz0), (ox1, oy0, oz1)), ((ox0, oy0, oz0), (ox1, oy0, oz0)),
             ((ox1, oy0, oz0), (ox1, oy1, oz0)), ((ox0, oy0, oz0), (ox0, oy0, oz1)),
             ((ox1, oy1, oz0), (ox1, oy1, oz1))]:
    seg(ax_b, a, b, color="#1a1a1a", lw=1.1, zorder=6)
ptext(217, 1686, r"X [$\mu\,$m]", ha="center", va="center")
ptext(702, 1706.5, r"Y [$\mu\,$m]", ha="center", va="center")
ptext(56, 1303, r"Z [$\mu\,$m]", ha="center", va="center", rotation=90)

# c: histogram of diffusion coefficients
ax_c = fig.add_axes([fx(966.7), fy(1620), (1649 - 966.7) / W, 630 / H])
edges_blue = np.arange(len(HIST_BLUE)) * BIN_WIDTH
edges_orange = np.arange(len(HIST_ORANGE)) * BIN_WIDTH
ax_c.bar(edges_blue, HIST_BLUE, BIN_WIDTH, align="edge", color=SWATCH_BLUE, edgecolor="#222222", lw=1.1)
ax_c.bar(edges_orange, HIST_ORANGE, BIN_WIDTH, align="edge", color=to_rgba("#f88058", 0.75),
         edgecolor=to_rgba("#222222", 0.85), lw=1.1)
ax_c.set_xlim(-0.415, 8.61)
ax_c.set_ylim(0, 0.12)
ax_c.set_xticks([0, 2, 4, 6, 8], ["0", "2", "4", "6", "8"])
ax_c.set_yticks([0, 0.02, 0.04, 0.06, 0.08, 0.1, 0.12], ["0", "0.02", "0.04", "0.06", "0.08", "0.1", "0.12"])
ax_c.tick_params(axis="both", direction="in", top=True, right=True, length=5, width=1.8, labelsize=FS)
ax_c.tick_params(axis="x", pad=19)
ax_c.tick_params(axis="y", pad=10)
for side in ax_c.spines.values():
    side.set_linewidth(2.3)
ax_c.text(3.87, 0.1102, "LNP-Sito/1.5", fontsize=25.4)
ax_c.text(3.87, 0.1021, "D = 1.69 \u00b1 0.81$\\mu$m\u00b2/s", fontsize=25.4)
ax_c.text(3.87, 0.0857, "LNP-Sito/3.5", fontsize=25.4)
ax_c.text(3.87, 0.0778, "D = 3.11 \u00b1 1.66 $\\mu$m\u00b2/s", fontsize=25.4)
ptext(1307, 1718, r"Diffusion Coefficient [$\mu\,$m$^{2}$/s]", ha="center", va="center", fontsize=26.2)
ptext(850, 1305, "Probability", ha="center", va="center", rotation=90, fontsize=26.0)

prect(487, 1744.5, 1246, 1797, facecolor="white", edgecolor="#222222", lw=1.0)
for x0, x1, tx, col, name in ((497, 605, 623, SWATCH_BLUE, "LNP-Sito/1.5"),
                              (877, 985, 996, SWATCH_ORANGE, "LNP-Sito/3.5")):
    prect(x0, 1755, x1, 1787, facecolor=col, edgecolor="#222222", lw=1.0)
    ptext(tx, 1782, name, fontsize=25.4)

# panel letters
ptext(2, 29, "a", fontsize=33, fontweight="bold")
ptext(1, 968, "b", fontsize=33, fontweight="bold")
ptext(798, 968, "c", fontsize=33, fontweight="bold")

fig.savefig("out.png", dpi=100)
